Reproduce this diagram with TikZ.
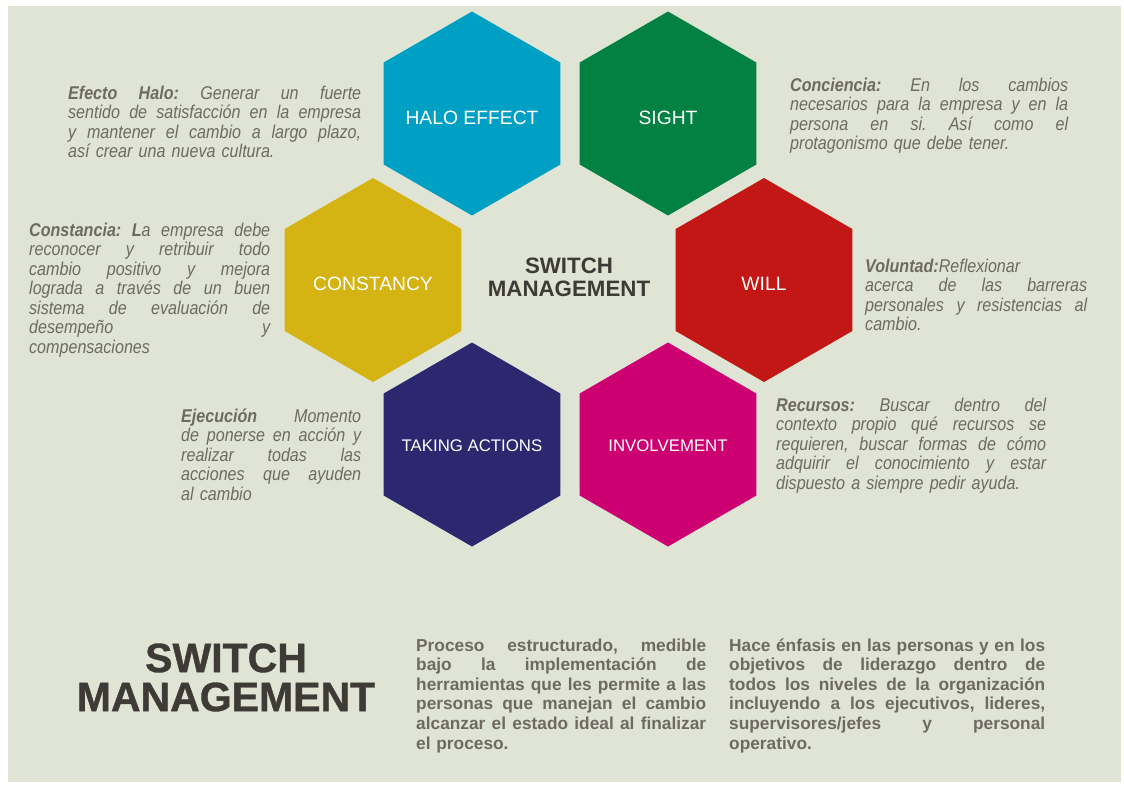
\documentclass[tikz,border=0pt]{standalone}
\usepackage{fontspec}
\setmainfont{Liberation Sans}
\newfontfamily\narrowsans[FakeStretch=0.87]{Liberation Sans}
\newfontfamily\heavysans[FakeBold=0.9]{Liberation Sans Bold}
\usetikzlibrary{shapes.geometric}
\definecolor{halo}{HTML}{00A0C4}
\definecolor{sight}{HTML}{038142}
\definecolor{constancy}{HTML}{D4B312}
\definecolor{will}{HTML}{C21714}
\definecolor{taking}{HTML}{2B2870}
\definecolor{involve}{HTML}{CC0070}
\definecolor{paper}{HTML}{DFE4D5}
\definecolor{ink}{HTML}{6E6A62}
\definecolor{darkink}{HTML}{3E3A35}
% one justified line of a note
\newcommand\jline[1]{\leavevmode\hbox to\hsize{\frenchspacing\spaceskip=0pt\xspaceskip=0pt #1}\\}
% label that does not widen its hexagon, baseline given below the centre
\newcommand\hexlabel[2][10.5pt]{\makebox[0pt]{\smash{\raisebox{-#1}{#2}}}}

\begin{document}
\begin{tikzpicture}[x=1pt,y=-1pt,
	hexa/.style={regular polygon,regular polygon sides=6,regular polygon rotate=30,minimum size=204pt,inner sep=0pt,fill=#1,text=white,font=\fontsize{19.3}{22}\selectfont},
	hexsmall/.style={font=\fontsize{16.8}{20}\selectfont},
	note/.style={anchor=base west,inner sep=0pt,align=left,text=ink,font=\narrowsans\itshape\fontsize{18.5}{19.5}\selectfont},
	summary/.style={anchor=base west,inner sep=0pt,align=left,text=ink,font=\bfseries\fontsize{17.3}{19.6}\selectfont}]
	\fill[white] (0,0) rectangle (1124,785);\useasboundingbox (0,0) rectangle (1124,785);
	\fill[paper] (8,6) rectangle (1121,782);
	% honeycomb
	\node[hexa=halo] (halo) at (472,113.5) {\hexlabel{HALO EFFECT}};\node[hexa=sight] (sight) at (668,113.5) {\hexlabel{SIGHT}};
	\node[hexa=constancy] (const) at (373,280) {\hexlabel{CONSTANCY}};\node[hexa=will] (will) at (764,280) {\hexlabel{WILL}};
	\node[hexa=taking,hexsmall] (take) at (472,444.5) {\hexlabel[7pt]{TAKING ACTIONS}};\node[hexa=involve,hexsmall] (involve) at (668,444.5) {\hexlabel[7pt]{INVOLVEMENT}};
	\node[align=center,inner sep=0pt,text=darkink,font=\bfseries\fontsize{22.3}{23}\selectfont] (core) at (569,277) {SWITCH\\MANAGEMENT};
	% notes around the honeycomb
	\node[note,text width=293pt] (halonote) at (68,99) {\jline{\textbf{Efecto Halo:} Generar un fuerte}\jline{sentido de satisfacción en la empresa}\jline{y mantener el cambio a largo plazo,}así crear una nueva cultura.};
	\node[note,text width=241pt] (constnote) at (29,236) {\jline{\textbf{Constancia: L}a empresa debe}\jline{reconocer y retribuir todo}\jline{cambio positivo y mejora}\jline{lograda a través de un buen}\jline{sistema de evaluación de}\jline{desempeño y}compensaciones};
	\node[note,text width=180pt] (takenote) at (181,422) {\jline{\textbf{Ejecución} Momento}\jline{de ponerse en acción y}\jline{realizar todas las}\jline{acciones que ayuden}al cambio};
	\node[note,text width=278pt] (sightnote) at (790,91) {\jline{\textbf{Conciencia:} En los cambios}\jline{necesarios para la empresa y en la}\jline{persona en si. Así como el}protagonismo que debe tener.};
	\node[note,text width=222pt] (willnote) at (865,272) {\textbf{Voluntad:}Reflexionar\\\jline{acerca de las barreras}\jline{personales y resistencias al}cambio.};
	\node[note,text width=270pt] (involvenote) at (776,411) {\jline{\textbf{Recursos:} Buscar dentro del}\jline{contexto propio qué recursos se}\jline{requieren, buscar formas de cómo}\jline{adquirir el conocimiento y estar}dispuesto a siempre pedir ayuda.};
	% title and summary
	\node[align=center,inner sep=0pt,text=darkink,font=\heavysans\fontsize{41}{39}\selectfont] (title) at (226,677.5) {SWITCH\\MANAGEMENT};
	\node[summary,text width=290pt] (process) at (416,651) {\jline{Proceso estructurado, medible}\jline{bajo la implementación de}\jline{herramientas que les permite a las}\jline{personas que manejan el cambio}\jline{alcanzar el estado ideal al finalizar}el proceso.};
	\node[summary,text width=316pt] (people) at (729,651) {\jline{Hace énfasis en las personas y en los}\jline{objetivos de liderazgo dentro de}\jline{todos los niveles de la organización}\jline{incluyendo a los ejecutivos, lideres,}\jline{supervisores/jefes y personal}operativo.};
\end{tikzpicture}
\end{document}
